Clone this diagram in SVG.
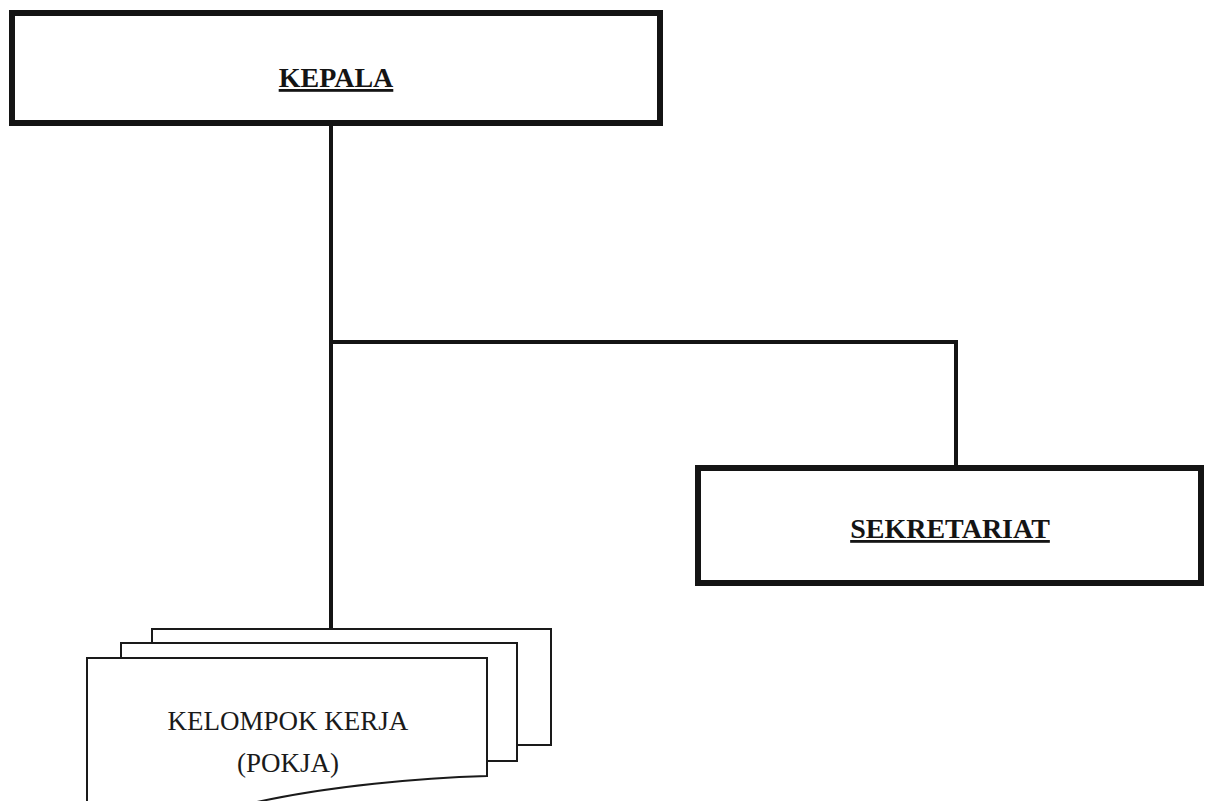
<svg xmlns="http://www.w3.org/2000/svg" width="1220" height="801" viewBox="0 0 1220 801">
<style>
.box{fill:#fff;stroke:#141414;stroke-width:6}
.doc{fill:#fff;stroke:#1a1a1a;stroke-width:2}
.conn{fill:none;stroke:#141414;stroke-width:4}
.title{font-family:"Liberation Serif","Times New Roman",serif;font-weight:bold;font-size:28px;fill:#141414;text-decoration:underline}
.label{font-family:"Liberation Serif","Times New Roman",serif;font-size:27px;fill:#1a1a1a}
</style>
<rect width="1220" height="801" fill="#fff"/>
<g id="connectors">
<path class="conn" d="M331,124 V630"/>
<path class="conn" d="M331,342 H956 V468"/>
</g>
<g id="kepala">
<rect class="box" x="12" y="13" width="648" height="110"/>
<text class="title" x="336" y="87" text-anchor="middle">KEPALA</text>
</g>
<g id="sekretariat">
<rect class="box" x="698" y="468" width="503" height="115"/>
<text class="title" x="950" y="538" text-anchor="middle">SEKRETARIAT</text>
</g>
<g id="pokja">
<rect class="doc" x="152" y="629" width="399" height="116"/>
<rect class="doc" x="121" y="643" width="396" height="118"/>
<path class="doc" d="M87,810 V658 H487 V776 C420,778 330,786 257,802 L240,810 Z"/>
<text class="label" x="288" y="730" text-anchor="middle">KELOMPOK KERJA</text>
<text class="label" x="288" y="772" text-anchor="middle">(POKJA)</text>
</g>
</svg>
